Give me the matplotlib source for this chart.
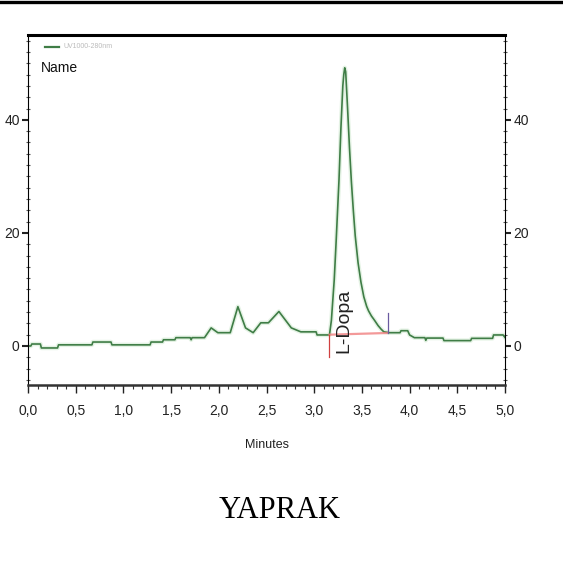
import matplotlib
matplotlib.use('Agg')
import matplotlib.pyplot as plt
from matplotlib.lines import Line2D
from matplotlib.ticker import MultipleLocator, FuncFormatter

narrow = ['Liberation Sans Narrow', 'Liberation Sans', 'DejaVu Sans']

# UV1000-280nm kromatogram verisi (dakika, mAU)
zaman = [0.00, 0.03, 0.04, 0.13, 0.14, 0.31, 0.32, 0.67, 0.68, 0.87, 0.88, 1.28, 1.29,
         1.41, 1.42, 1.54, 1.55, 1.70, 1.71, 1.72, 1.85, 1.92, 1.99, 2.12, 2.20, 2.28,
         2.36, 2.44, 2.52, 2.63, 2.76, 2.86, 3.02, 3.03, 3.16, 3.18, 3.21, 3.23, 3.26,
         3.28, 3.30, 3.31, 3.32, 3.33, 3.35, 3.37, 3.39, 3.41, 3.43, 3.46, 3.49, 3.52,
         3.55, 3.57, 3.60, 3.63, 3.67, 3.70, 3.73, 3.79, 3.90, 3.91, 3.98, 4.00,
         4.05, 4.16, 4.17, 4.18, 4.35, 4.36, 4.64, 4.65, 4.87, 4.88, 4.98, 5.00]
sinyal = [0.0, 0.0, 0.35, 0.35, -0.35, -0.35, 0.2, 0.2, 0.7, 0.7, 0.2, 0.2, 0.7,
          0.7, 1.1, 1.1, 1.47, 1.47, 1.1, 1.47, 1.47, 3.2, 2.35, 2.35, 6.95, 3.2,
          2.35, 4.1, 4.1, 6.1, 3.2, 2.5, 2.5, 1.95, 1.95, 4.5, 11.7, 18.5, 29.4,
          38.5, 46.0, 48.0, 49.2, 48.5, 42.0, 35.0, 29.0, 24.0, 19.5, 14.7, 11.3, 8.7,
          7.0, 6.2, 5.3, 4.6, 3.6, 3.0, 2.5, 2.35, 2.35, 2.7, 2.7, 1.95,
          1.47, 1.47, 1.0, 1.4, 1.4, 0.95, 0.95, 1.35, 1.35, 1.95, 1.95, 1.5]

# L-Dopa pik entegrasyonu
pik_adi = 'L-Dopa'
pik_zaman = 3.31
pik_bas, pik_son = 3.16, 3.77
taban_bas, taban_son = 2.0, 2.3

fig = plt.figure(figsize=(5.63, 5.64), dpi=100)
ax = fig.add_axes([28 / 563, (564 - 385) / 564, (505 - 28) / 563, (385 - 35) / 564])

ax.plot(zaman, sinyal, color='#c4e4c4', lw=3.2, alpha=0.45)
ax.plot(zaman, sinyal, color='#3f7d46', lw=1.2)

# taban cizgisi ve pik sinirlari
ax.plot([pik_bas, pik_son], [taban_bas, taban_son], color='#f08080', lw=1.6, alpha=0.8)
ax.plot([pik_bas, pik_bas], [taban_bas, -2.0], color='#d04040', lw=0.9)
ax.plot([pik_son, pik_son], [taban_son, 5.8], color='#6a5aa0', lw=0.9)
ax.text(pik_zaman, 4.5, pik_adi, rotation=90, ha='center', va='center',
        fontsize=14, family=narrow, color='#222222')

# lejant
ax.plot([0.18, 0.32], [52.9, 52.9], color='#3f7d46', lw=1.6)
ax.text(0.37, 52.9, 'UV1000-280nm', fontsize=5, family=narrow, color='#bbbbbb', va='center')
ax.text(0.13, 49.2, 'Name', fontsize=10, family=narrow, color='#111111', va='center')

ax.set_xlim(0, 5)
ax.set_ylim(-6.9, 55)

ax.xaxis.set_major_locator(MultipleLocator(0.5))
ax.xaxis.set_minor_locator(MultipleLocator(0.1))
ax.yaxis.set_major_locator(MultipleLocator(20))
ax.yaxis.set_minor_locator(MultipleLocator(2))
ax.xaxis.set_major_formatter(FuncFormatter(lambda v, p: f'{v:.1f}'.replace('.', ',')))
ax.yaxis.set_major_formatter(FuncFormatter(lambda v, p: f'{v:.0f}'))

ax.tick_params(axis='x', which='major', direction='out', length=6, width=1, pad=8,
               labelsize=10, colors='#222222')
ax.tick_params(axis='x', which='minor', direction='out', length=3, width=0.8, colors='#333333')
ax.tick_params(axis='y', which='major', direction='out', length=4, width=1.5,
               labelsize=10, left=True, right=True, labelleft=True, labelright=True,
               pad=2, colors='#222222')
ax.tick_params(axis='y', which='minor', direction='inout', length=3, width=0.8,
               left=True, right=True, colors='#555555')
for lab in ax.get_xticklabels() + ax.get_yticklabels():
    lab.set_family(narrow)

ax.spines['top'].set_linewidth(2.2)
ax.spines['bottom'].set_linewidth(1.8)
ax.spines['bottom'].set_color('#333333')
ax.spines['left'].set_linewidth(0.8)
ax.spines['right'].set_linewidth(0.8)

fig.text(267 / 563, 1 - 445 / 564, 'Minutes', ha='center', va='center',
         fontsize=9, family=narrow, color='#222222')
fig.text(280 / 563, 1 - 510 / 564, 'YAPRAK', ha='center', va='center',
         fontsize=22, family=['Liberation Serif', 'DejaVu Serif'])

# sayfa ustundeki cizgi
fig.add_artist(Line2D([0, 1], [1 - 1.5 / 564, 1 - 1.5 / 564], color='black', lw=2.4,
                      transform=fig.transFigure))

fig.savefig('out.png', dpi=100)
